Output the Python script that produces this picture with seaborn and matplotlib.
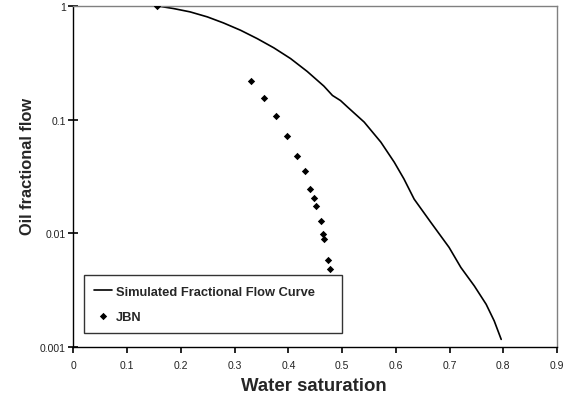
import matplotlib
matplotlib.use("Agg")
import matplotlib.pyplot as plt
import matplotlib.ticker as mticker
import seaborn as sns
import pandas as pd

# Simulated fractional flow curve
sim_sw = [0.130, 0.155, 0.186, 0.217, 0.249, 0.279, 0.311, 0.342, 0.373, 0.404,
          0.435, 0.466, 0.482, 0.497, 0.510, 0.541, 0.572, 0.597, 0.615, 0.634,
          0.665, 0.699, 0.721, 0.746, 0.768, 0.783, 0.796]
sim_fo = [1.0, 1.0, 0.947, 0.885, 0.800, 0.708, 0.610, 0.515, 0.427, 0.344,
          0.265, 0.197, 0.163, 0.147, 0.129, 0.0951, 0.0634, 0.0422, 0.0301, 0.0200,
          0.0125, 0.00753, 0.00501, 0.00345, 0.00238, 0.00170, 0.00117]

# JBN points
jbn_sw = [0.155, 0.331, 0.355, 0.376, 0.398, 0.416, 0.430, 0.441, 0.447, 0.451,
          0.460, 0.464, 0.467, 0.474, 0.477]
jbn_fo = [1.0, 0.218, 0.155, 0.108, 0.0724, 0.0483, 0.0352, 0.0246, 0.0206, 0.0175,
          0.0128, 0.0098, 0.00885, 0.00585, 0.00488]

x_ticks = [0, 0.1, 0.2, 0.3, 0.4, 0.5, 0.6, 0.7, 0.8, 0.9]
x_tick_labels = ["0", "0.1", "0.2", "0.3", "0.4", "0.5", "0.6", "0.7", "0.8", "0.9"]
y_ticks = [0.001, 0.01, 0.1, 1]
y_tick_labels = ["0.001", "0.01", "0.1", "1"]

sns.set_style("ticks", {
    "xtick.bottom": True, "ytick.left": True,
    "xtick.direction": "out", "ytick.direction": "inout",
})
plt.rcParams['font.family'] = ['Liberation Sans', 'DejaVu Sans']

fig = plt.figure(figsize=(5.65, 4.02), dpi=100)
ax = fig.add_axes([0.130, 0.134, 0.856, 0.849])

sim_df = pd.DataFrame({"sw": sim_sw, "fo": sim_fo})
jbn_df = pd.DataFrame({"sw": jbn_sw, "fo": jbn_fo})

sns.lineplot(data=sim_df, x="sw", y="fo", ax=ax, color="black", linewidth=1.2,
             label="Simulated Fractional Flow Curve", sort=False)
sns.scatterplot(data=jbn_df, x="sw", y="fo", ax=ax, color="black", marker="D",
                s=14, edgecolor="black", linewidth=0, label="JBN", zorder=3)

ax.set_yscale("log")
ax.set_xlim(0, 0.9)
ax.set_ylim(0.001, 1)
ax.set_xticks(x_ticks)
ax.set_xticklabels(x_tick_labels)
ax.set_yticks(y_ticks)
ax.set_yticklabels(y_tick_labels)
ax.yaxis.set_minor_locator(mticker.NullLocator())
ax.xaxis.set_minor_locator(mticker.NullLocator())

ax.tick_params(axis="x", which="major", bottom=True, top=False, direction="out",
               length=4, width=1.2, labelsize=7.5, pad=5, color="black", labelcolor="#222222")
ax.tick_params(axis="y", which="major", left=True, right=False, direction="inout",
               length=7, width=1.2, labelsize=7.5, pad=2, color="black", labelcolor="#222222")

for side in ["left", "bottom"]:
    ax.spines[side].set_color("black")
    ax.spines[side].set_linewidth(1)
for side in ["top", "right"]:
    ax.spines[side].set_visible(True)
    ax.spines[side].set_color("#808080")
    ax.spines[side].set_linewidth(1)

ax.set_xlabel("Water saturation", fontsize=13.4, fontweight="bold")
ax.set_ylabel("Oil fractional flow", fontsize=11.8, fontweight="bold")
ax.xaxis.label.set_va("center")
ax.yaxis.label.set_va("center")
ax.xaxis.set_label_coords(0.498, -0.113)
ax.yaxis.set_label_coords(-0.094, 0.531)

leg = ax.legend(loc="lower left", bbox_to_anchor=(0.0217, 0.041, 0.533, 0.155),
                mode="expand", fontsize=9.3, frameon=True, fancybox=False,
                handlelength=1.4, handletextpad=0.3, labelspacing=1.0,
                borderaxespad=0, borderpad=0.8)
leg.get_frame().set_edgecolor("black")
leg.get_frame().set_linewidth(1)
for t in leg.get_texts():
    t.set_fontweight("bold")

fig.savefig("out.png", dpi=100, facecolor="white")
